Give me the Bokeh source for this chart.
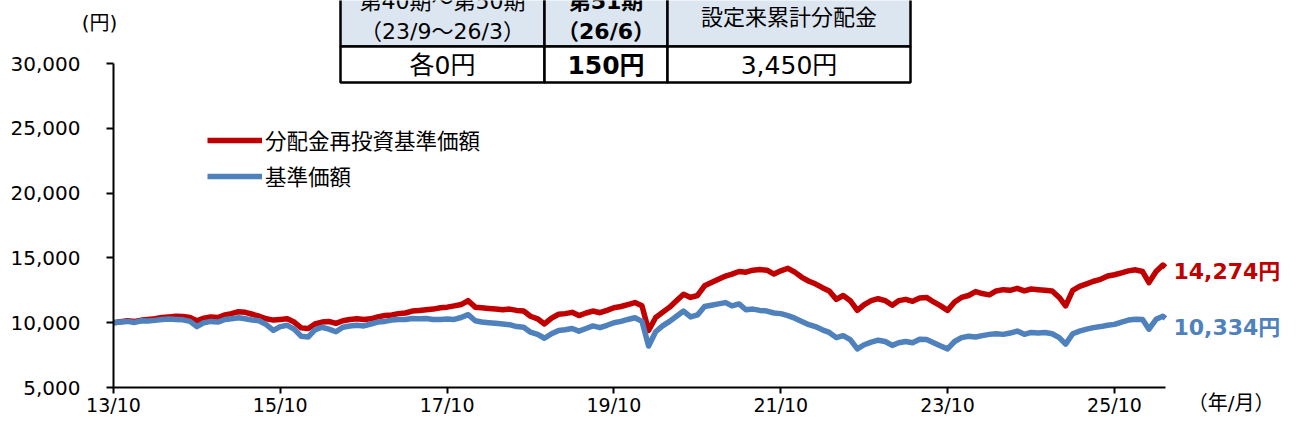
from datetime import datetime, timedelta
import pandas as pd
from bokeh.plotting import figure
from bokeh.models import (Range1d, FixedTicker, DatetimeTickFormatter, NumeralTickFormatter,
                          DatetimeAxis, LinearAxis, ColumnDataSource)
from bokeh.core.properties import value
from bokeh.embed import file_html
from bokeh.resources import INLINE

# ---------------- data ----------------
dates = list(pd.date_range("2013-10-01", "2026-05-01", freq="MS")) + [pd.Timestamp("2026-05-12")]

reinvested = [  # 分配金再投資基準価額
    10000, 10080, 10150, 10100, 10200, 10250, 10300, 10400, 10450, 10500, 10480, 10400,
    10150, 10350, 10450, 10400, 10600, 10700, 10850, 10800, 10650, 10500, 10300, 10200,
    10250, 10300, 10050, 9600, 9550, 9900, 10050, 10100, 9950, 10150, 10250, 10300,
    10250, 10300, 10450, 10550, 10600, 10700, 10750, 10900, 10950, 11000, 11050, 11150,
    11200, 11300, 11400, 11700, 11200, 11150, 11100, 11050, 11000, 11050, 10950, 10900,
    10500, 10300, 9900, 10350, 10650, 10700, 10800, 10550, 10750, 10900, 10770, 10950,
    11150, 11250, 11400, 11550, 11300, 9400, 10400, 10800, 11200, 11700, 12200, 11950,
    12100, 12850, 13100, 13350, 13600, 13750, 13950, 13900, 14050, 14100, 14050, 13750,
    14000, 14200, 13900, 13500, 13200, 13000, 12700, 12450, 11800, 12100, 11700, 10950,
    11400, 11700, 11850, 11700, 11350, 11700, 11800, 11650, 11900, 11950, 11600, 11300,
    10950, 11600, 11950, 12100, 12400, 12250, 12150, 12450, 12550, 12500, 12650, 12450,
    12600, 12550, 12500, 12450, 11950, 11300, 12500, 12800, 13000, 13200, 13350, 13600,
    13700, 13850, 14000, 14080, 13950, 13100, 13950, 14450,
    14274,
]
nav = [  # 基準価額
    10000, 10050, 10100, 10020, 10150, 10130, 10180, 10250, 10280, 10250, 10220, 10100,
    9700, 10000, 10100, 10050, 10250, 10300, 10380, 10300, 10200, 10150, 9850, 9400,
    9700, 9800, 9500, 8950, 8900, 9450, 9650, 9500, 9300, 9650, 9750, 9800,
    9750, 9900, 10050, 10100, 10200, 10250, 10250, 10320, 10300, 10320, 10250, 10250,
    10280, 10250, 10400, 10620, 10150, 10050, 10000, 9950, 9900, 9850, 9700, 9650,
    9270, 9100, 8800, 9150, 9400, 9450, 9550, 9350, 9550, 9750, 9620, 9800,
    10000, 10100, 10250, 10380, 10100, 8200, 9300, 9750, 10100, 10500, 10900, 10450,
    10600, 11250, 11350, 11450, 11550, 11300, 11450, 11000, 11050, 10950, 10900, 10750,
    10700, 10550, 10350, 10100, 9850, 9700, 9450, 9250, 8850, 9000, 8700, 7980,
    8300, 8500, 8650, 8550, 8250, 8450, 8550, 8450, 8720, 8700, 8450, 8200,
    7980, 8550, 8850, 8950, 8900, 9000, 9100, 9150, 9100, 9200, 9350, 9100,
    9250, 9200, 9250, 9150, 8850, 8350, 9150, 9350, 9500, 9620, 9700, 9800,
    9870, 10050, 10200, 10260, 10250, 9500, 10260, 10500,
    10334,
]
series_names = ["分配金再投資基準価額", "基準価額"]
y_ticks = [5000, 10000, 15000, 20000, 25000, 30000]
x_tick_dates = ["2013-10-01", "2015-10-01", "2017-10-01", "2019-10-01",
                "2021-10-01", "2023-10-01", "2025-10-01"]
y_unit = "(円)"
x_unit = "（年/月）"
table_header_1 = ["第40期～第50期", "第51期", ""]
table_header_2 = ["（23/9～26/3）", "（26/6）", ""]
table_header_single = ["", "", "設定来累計分配金"]
table_values = ["各0円", "150円", "3,450円"]

# ---------------- layout (frame = whole canvas, axes at fixed locations) ----------------
W, H = 1280, 416
AX_X = 113                 # canvas x of the y axis (start date)
Y_TOP_PX, Y_BOT_PX = 63, 387   # canvas rows of 30,000 and 5,000
Y_MIN, Y_MAX = 5000, 30000
ppu = (Y_BOT_PX - Y_TOP_PX) / (Y_MAX - Y_MIN)
y_lo = Y_MIN - (H - Y_BOT_PX) / ppu
y_hi = Y_MAX + Y_TOP_PX / ppu
x_start = datetime(2013, 10, 1)
px_per_day = 1001 / 4383
x_lo = x_start - timedelta(days=AX_X / px_per_day)
x_hi = x_lo + timedelta(days=W / px_per_day)
x_axis_end = dates[-1].to_pydatetime()

RED = "#C00000"
BLUE = "#4F81BD"
NUM_FONT = "DejaVu Sans, Noto Sans CJK JP"
JP_FONT = "Noto Sans CJK JP"

p = figure(width=W, height=H, output_backend="svg", toolbar_location=None, title=None,
           x_axis_type=None, y_axis_type=None,
           x_range=Range1d(x_lo, x_hi), y_range=Range1d(y_lo, y_hi),
           min_border=0, min_border_left=0, min_border_right=0, min_border_top=0,
           min_border_bottom=0)
p.outline_line_color = None
p.background_fill_color = "white"
p.border_fill_color = "white"
p.extra_x_ranges = {"cx": Range1d(0, W)}
p.extra_y_ranges = {"cy": Range1d(H, 0)}

# axes
xaxis = DatetimeAxis(
    ticker=FixedTicker(ticks=[pd.Timestamp(d).value / 1e6 for d in x_tick_dates]),
    formatter=DatetimeTickFormatter(years="%y/%m", months="%y/%m", days="%y/%m",
                                    hours="%y/%m", minutes="%y/%m", seconds="%y/%m",
                                    milliseconds="%y/%m", microseconds="%y/%m",
                                    hourmin="%y/%m", minsec="%y/%m"),
    bounds=(x_start, x_axis_end), fixed_location=Y_MIN,
    axis_line_width=2, axis_line_color="black",
    major_tick_line_width=2, major_tick_line_color="black",
    major_tick_out=6, major_tick_in=0, minor_tick_out=0, minor_tick_in=0,
    major_label_standoff=0, major_label_text_font="DejaVu Sans",
    major_label_text_font_size="19px", major_label_text_color="black")
p.add_layout(xaxis, "below")
yaxis = LinearAxis(
    ticker=FixedTicker(ticks=y_ticks), formatter=NumeralTickFormatter(format="0,0"),
    bounds=(Y_MIN, Y_MAX), fixed_location=pd.Timestamp(x_start).value / 1e6,
    axis_line_width=2, axis_line_color="black",
    major_tick_line_width=2, major_tick_line_color="black",
    major_tick_out=7, major_tick_in=0, minor_tick_out=0, minor_tick_in=0,
    major_label_standoff=26, major_label_text_font="DejaVu Sans",
    major_label_text_font_size="20px", major_label_text_color="black")
p.add_layout(yaxis, "left")

# lines
src = ColumnDataSource(dict(date=dates, red=reinvested, blue=nav))
p.line("date", "red", source=src, line_color=RED, line_width=5.5, line_join="round",
       legend_label=series_names[0])
p.line("date", "blue", source=src, line_color=BLUE, line_width=5.5, line_join="round",
       legend_label=series_names[1])

lg = p.legend[0]
lg.location = (207, H - 191)
lg.border_line_color = None
lg.background_fill_alpha = 0
lg.padding = 0
lg.margin = 0
lg.spacing = 5
lg.glyph_width = 55
lg.glyph_height = 30
lg.label_height = 30
lg.label_standoff = 3
lg.label_text_font = JP_FONT
lg.label_text_font_size = "21.5px"
lg.label_text_color = "black"

# end labels
p.text(x=[dates[-1]], y=[reinvested[-1]], text=[f"{reinvested[-1]:,}円"],
       x_offset=8, y_offset=4, text_align="left", text_baseline="middle",
       text_font=value(NUM_FONT), text_font_size="22px", text_font_style="bold",
       text_color=RED)
p.text(x=[dates[-1]], y=[nav[-1]], text=[f"{nav[-1]:,}円"],
       x_offset=8, y_offset=9, text_align="left", text_baseline="middle",
       text_font=value(NUM_FONT), text_font_size="22px", text_font_style="bold",
       text_color=BLUE)

# unit labels (canvas pixel coordinates)
txt = dict(x_range_name="cx", y_range_name="cy",
           text_font=value(NUM_FONT), text_color="black", text_font_size="20px")
p.text(x=[99], y=[22], text=[y_unit], text_align="center", text_baseline="middle", **txt)
p.text(x=[1274], y=[414], text=[x_unit], text_align="right", text_baseline="bottom", **txt)

# table (canvas pixel coordinates)
col_edges = [340, 544, 667, 910]
row_edges = [-12, 46, 82]
lefts = col_edges[:-1] * 2
rights = col_edges[1:] * 2
tops = [row_edges[0]] * 3 + [row_edges[1]] * 3
bots = [row_edges[1]] * 3 + [row_edges[2]] * 3
p.quad(left=lefts, right=rights, top=tops, bottom=bots,
       fill_color=["#DCE6F1"] * 3 + ["white"] * 3, line_color="black", line_width=2.5,
       x_range_name="cx", y_range_name="cy")
centers = [(col_edges[i] + col_edges[i + 1]) / 2 for i in range(3)]
bold = [False, True, False]
for i in range(3):
    style = "bold" if bold[i] else "normal"
    common = dict(x_range_name="cx", y_range_name="cy", text_align="center",
                  text_baseline="middle", text_font=value(NUM_FONT), text_color="black",
                  text_font_style=style)
    if table_header_1[i]:
        p.text(x=[centers[i]], y=[1], text=[table_header_1[i]], text_font_size="22px", **common)
    if table_header_2[i]:
        p.text(x=[centers[i]], y=[31], text=[table_header_2[i]], text_font_size="22px", **common)
    if table_header_single[i]:
        p.text(x=[centers[i]], y=[17], text=[table_header_single[i]], text_font_size="22px", **common)
    p.text(x=[centers[i]], y=[65], text=[table_values[i]], text_font_size="25px", **common)

with open("out.html", "w", encoding="utf-8") as f:
    f.write(file_html(p, INLINE))
